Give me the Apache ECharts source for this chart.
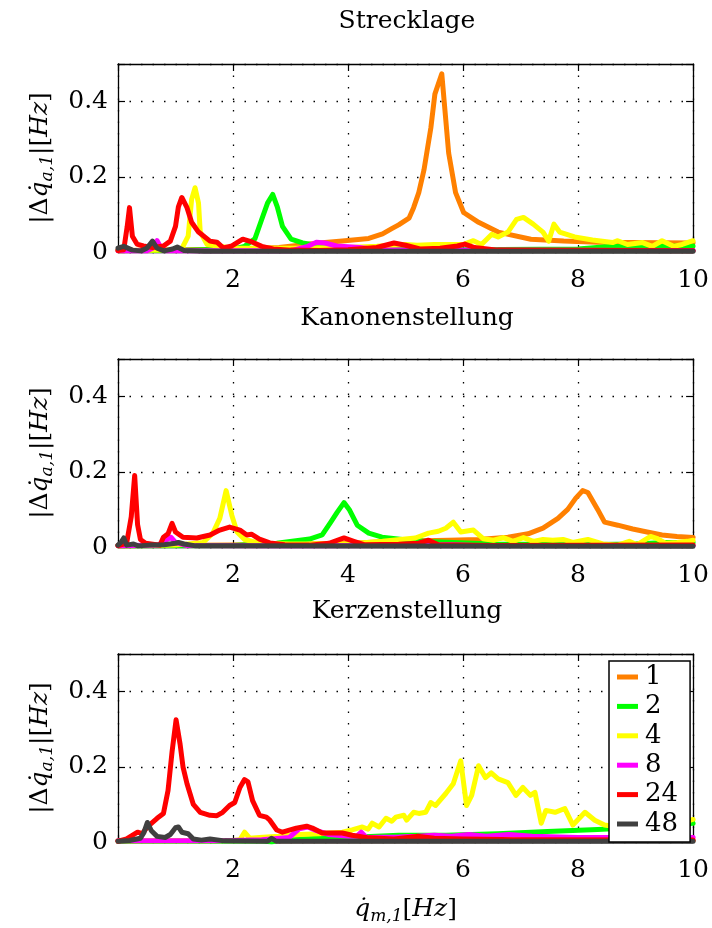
<!DOCTYPE html>
<html>
<head>
<meta charset="utf-8">
<script src="https://cdn.jsdelivr.net/npm/echarts@6/dist/echarts.min.js"></script>
<style>html,body{margin:0;padding:0;background:#fff;}#c{width:712px;height:928px;}</style>
</head>
<body>
<div id="c"></div>
<script>
// ---------- data ----------
const panelTitles = ['Strecklage', 'Kanonenstellung', 'Kerzenstellung'];
const seriesNames = ['1', '2', '4', '8', '24', '48'];
const seriesColors = ['#ff8000', '#00ff00', '#ffff00', '#ff00ff', '#ff0000', '#404040'];
const xTicks = [0, 2, 4, 6, 8, 10];
const yTicks = [0, 0.2, 0.4];

// Panel 1: Strecklage
const s_1 = [[0,0.004],[1,0.005],[2,0.008],[2.8,0.012],[3.5,0.024],[3.9,0.029],[4.36,0.036],[4.6,0.048],[4.76,0.062],[4.88,0.072],[5.06,0.09],[5.14,0.118],[5.23,0.158],[5.32,0.218],[5.44,0.33],[5.51,0.42],[5.63,0.474],[5.75,0.263],[5.87,0.158],[6.01,0.105],[6.27,0.079],[6.61,0.053],[7.18,0.034],[7.75,0.029],[8.34,0.026],[10,0.024]];
const s_2 = [[0,0.004],[1,0.004],[2.0,0.008],[2.2,0.015],[2.38,0.035],[2.5,0.087],[2.6,0.13],[2.69,0.153],[2.77,0.12],[2.86,0.068],[3.01,0.034],[3.21,0.024],[3.44,0.018],[3.8,0.012],[4.5,0.008],[6,0.006],[8,0.008],[8.6,0.015],[9,0.012],[9.5,0.015],[10,0.016]];
const s_4 = [[0,0.003],[1.1,0.006],[1.22,0.042],[1.28,0.14],[1.34,0.171],[1.4,0.13],[1.43,0.053],[1.55,0.02],[2,0.01],[3,0.01],[4,0.012],[4.5,0.015],[5,0.02],[5.2,0.018],[5.5,0.02],[6.0,0.02],[6.18,0.03],[6.32,0.02],[6.5,0.047],[6.61,0.04],[6.78,0.053],[6.93,0.087],[7.05,0.092],[7.22,0.074],[7.39,0.053],[7.49,0.029],[7.58,0.074],[7.68,0.053],[7.94,0.04],[8.25,0.032],[8.6,0.025],[8.69,0.03],[8.86,0.02],[9.12,0.025],[9.29,0.015],[9.46,0.03],[9.66,0.015],[9.81,0.02],[10,0.03]];
const s_8 = [[0,0.003],[0.5,0.003],[0.6,0.01],[0.68,0.03],[0.75,0.01],[0.85,0.003],[3.0,0.003],[3.3,0.015],[3.45,0.026],[3.6,0.024],[3.8,0.016],[4.2,0.012],[4.6,0.005],[10,0.004]];
const s_24 = [[0,0.004],[0.1,0.006],[0.16,0.068],[0.2,0.118],[0.25,0.042],[0.33,0.021],[0.44,0.016],[0.6,0.012],[0.79,0.016],[0.91,0.029],[1.0,0.068],[1.05,0.12],[1.11,0.145],[1.2,0.118],[1.28,0.079],[1.4,0.053],[1.6,0.029],[1.72,0.026],[1.83,0.011],[1.98,0.016],[2.17,0.034],[2.34,0.026],[2.5,0.015],[2.7,0.008],[3.0,0.005],[3.5,0.004],[4.0,0.006],[4.5,0.012],[4.8,0.024],[5.0,0.018],[5.25,0.008],[5.6,0.01],[5.9,0.016],[6.03,0.021],[6.2,0.012],[6.6,0.005],[10,0.003]];
const s_48 = [[0,0.01],[0.1,0.015],[0.25,0.005],[0.4,0.003],[0.5,0.01],[0.6,0.029],[0.68,0.01],[0.8,0.003],[0.95,0.008],[1.03,0.013],[1.15,0.004],[1.5,0.002],[10,0.002]];

// Panel 2: Kanonenstellung
const k_1 = [[0,0.003],[2,0.005],[4,0.01],[4.88,0.015],[5.75,0.018],[6.27,0.02],[6.78,0.026],[7.13,0.035],[7.39,0.05],[7.65,0.076],[7.82,0.1],[7.96,0.13],[8.08,0.15],[8.17,0.145],[8.34,0.1],[8.46,0.066],[8.69,0.058],[8.95,0.048],[9.2,0.04],[9.46,0.032],[9.72,0.028],[10,0.025]];
const k_2 = [[0,0.003],[2.0,0.004],[2.76,0.01],[3.33,0.021],[3.55,0.032],[3.7,0.066],[3.81,0.092],[3.93,0.118],[4.02,0.1],[4.16,0.058],[4.36,0.037],[4.59,0.026],[5.06,0.018],[5.5,0.014],[6.5,0.008],[8,0.006],[9,0.008],[9.5,0.012],[10,0.012]];
const k_4 = [[0,0.003],[1.0,0.005],[1.48,0.012],[1.65,0.037],[1.77,0.076],[1.88,0.15],[1.98,0.084],[2.07,0.04],[2.2,0.02],[2.46,0.01],[3,0.008],[4,0.008],[4.6,0.015],[5.17,0.024],[5.4,0.037],[5.57,0.042],[5.7,0.05],[5.83,0.066],[5.96,0.04],[6.18,0.045],[6.35,0.022],[6.53,0.018],[6.7,0.025],[6.87,0.015],[7.05,0.025],[7.22,0.015],[7.39,0.02],[7.56,0.018],[7.74,0.02],[7.91,0.012],[8.17,0.02],[8.43,0.008],[8.69,0.005],[8.89,0.015],[9.03,0.006],[9.26,0.028],[9.38,0.022],[9.52,0.01],[9.72,0.012],[9.9,0.015],[10,0.018]];
const k_8 = [[0,0.003],[0.7,0.005],[0.85,0.02],[0.92,0.026],[1.0,0.012],[1.2,0.004],[3,0.003],[5,0.004],[5.8,0.006],[6.2,0.004],[10,0.004]];
const k_24 = [[0,0.004],[0.15,0.01],[0.23,0.08],[0.29,0.19],[0.34,0.06],[0.39,0.02],[0.48,0.01],[0.73,0.005],[0.79,0.026],[0.87,0.035],[0.94,0.063],[1.0,0.04],[1.13,0.026],[1.37,0.024],[1.6,0.032],[1.77,0.045],[1.94,0.053],[2.12,0.045],[2.24,0.032],[2.32,0.034],[2.46,0.021],[2.64,0.011],[2.9,0.006],[3.33,0.005],[3.67,0.01],[3.93,0.024],[4.1,0.015],[4.28,0.006],[4.88,0.007],[5.23,0.01],[5.4,0.018],[5.57,0.006],[6.5,0.004],[10,0.005]];
const k_48 = [[0,0.005],[0.05,0.012],[0.1,0.024],[0.15,0.005],[0.27,0.008],[0.35,0.003],[0.55,0.005],[0.8,0.006],[1.0,0.01],[1.05,0.012],[1.15,0.008],[1.35,0.003],[10,0.002]];

// Panel 3: Kerzenstellung
const z_1 = [[0,0.003],[8.3,0.004],[8.51,0.008],[8.77,0.02],[9.03,0.022],[9.29,0.01],[9.5,0.004],[10,0.004]];
const z_2 = [[0,0.002],[2.5,0.003],[2.67,0.0],[2.8,0.005],[3.5,0.01],[4,0.012],[4.88,0.018],[5.7,0.018],[6.6,0.022],[7.47,0.028],[8.34,0.033],[9.2,0.04],[10,0.05]];
const z_4 = [[0,0.003],[2.0,0.004],[2.12,0.006],[2.2,0.026],[2.29,0.01],[2.46,0.012],[2.8,0.015],[3.15,0.02],[3.5,0.022],[3.9,0.026],[4.07,0.032],[4.25,0.04],[4.35,0.034],[4.42,0.05],[4.54,0.04],[4.66,0.063],[4.76,0.055],[4.83,0.066],[4.97,0.071],[5.02,0.058],[5.14,0.079],[5.23,0.076],[5.35,0.079],[5.44,0.105],[5.52,0.097],[5.7,0.129],[5.83,0.155],[5.96,0.216],[6.06,0.097],[6.15,0.124],[6.27,0.203],[6.39,0.171],[6.49,0.184],[6.61,0.168],[6.78,0.158],[6.92,0.124],[7.04,0.145],[7.17,0.124],[7.25,0.132],[7.36,0.05],[7.44,0.084],[7.6,0.079],[7.77,0.089],[7.91,0.045],[8.12,0.079],[8.29,0.058],[8.46,0.045],[8.69,0.04],[8.95,0.035],[9.1,0.04],[9.26,0.032],[9.43,0.018],[9.6,0.039],[9.76,0.024],[9.95,0.058],[10,0.06]];
const z_8 = [[0,0.003],[2.0,0.004],[2.5,0.006],[2.98,0.012],[3.15,0.035],[3.3,0.04],[3.45,0.03],[3.67,0.02],[4.0,0.015],[4.15,0.015],[4.23,0.026],[4.32,0.012],[4.88,0.013],[5.2,0.015],[5.5,0.018],[5.8,0.015],[6.1,0.02],[6.4,0.015],[6.8,0.02],[7.2,0.015],[8,0.012],[10,0.012]];
const z_24 = [[0,0.002],[0.15,0.008],[0.34,0.026],[0.42,0.022],[0.51,0.04],[0.68,0.063],[0.79,0.076],[0.87,0.137],[0.94,0.24],[1.01,0.325],[1.08,0.26],[1.13,0.2],[1.2,0.155],[1.31,0.1],[1.43,0.079],[1.6,0.071],[1.72,0.07],[1.82,0.079],[1.94,0.097],[2.03,0.105],[2.12,0.145],[2.2,0.166],[2.26,0.16],[2.34,0.11],[2.46,0.071],[2.58,0.066],[2.64,0.058],[2.76,0.032],[2.86,0.026],[3.1,0.037],[3.28,0.042],[3.38,0.037],[3.55,0.024],[3.9,0.024],[4.07,0.018],[4.36,0.011],[4.8,0.008],[5.2,0.015],[5.5,0.01],[6,0.008],[7,0.006],[10,0.005]];
const z_48 = [[0,0.002],[0.2,0.004],[0.39,0.01],[0.45,0.025],[0.51,0.052],[0.58,0.03],[0.68,0.015],[0.82,0.012],[0.91,0.02],[1.0,0.038],[1.05,0.04],[1.11,0.026],[1.22,0.022],[1.31,0.008],[1.45,0.005],[1.6,0.008],[1.85,0.003],[2.6,0.002],[2.67,0.01],[2.75,0.002],[10,0.002]];

const panels = [
  [s_1, s_2, s_4, s_8, s_24, s_48],
  [k_1, k_2, k_4, k_8, k_24, k_48],
  [z_1, z_2, z_4, z_8, z_24, z_48]
];

// ---------- layout ----------
const FONT = 'DejaVu Serif';
const gridTops = [64, 359, 654];
const gridH = 188;
const gridLeft = 118, gridRight = 16;
const titleY = [21, 318, 611];

const grids = [], xAxes = [], yAxes = [], series = [], graphics = [];
const nameRich = {
  n: {fontFamily: FONT, fontSize: 25, color: '#000'},
  it: {fontFamily: FONT, fontStyle: 'italic', fontSize: 25, color: '#000'},
  sub: {fontFamily: FONT, fontStyle: 'italic', fontSize: 17, color: '#000', verticalAlign: 'bottom', padding: [14, 0, 0, 0]}
};

panels.forEach((pdata, i) => {
  grids.push({left: gridLeft, right: gridRight, top: gridTops[i], height: gridH, containLabel: false});
  const axLine = {show: true, onZero: false, lineStyle: {color: '#000', width: 1.3}};
  const tick = {show: true, inside: true, length: 7, lineStyle: {color: '#000', width: 1.2}};
  xAxes.push({
    type: 'value', gridIndex: i, min: xTicks[0], max: xTicks[xTicks.length - 1], interval: 2,
    position: 'bottom', axisLine: axLine, axisTick: tick,
    axisLabel: {show: true, margin: 16, fontFamily: FONT, fontSize: 25, color: '#000',
      formatter: v => (v === 0 ? '' : String(v))},
    splitLine: {show: true, lineStyle: {color: '#000', width: 1.3, type: [1.5, 10]}},
    name: i === 2 ? '{it|q̇}{sub|m,1}{n|[}{it|Hz}{n|]}' : '',
    nameLocation: 'middle', nameGap: 52,
    nameTextStyle: {rich: nameRich}
  });
  xAxes.push({
    type: 'value', gridIndex: i, min: xTicks[0], max: xTicks[xTicks.length - 1], interval: 2,
    position: 'top', axisLine: axLine, axisTick: tick,
    axisLabel: {show: false}, splitLine: {show: false}
  });
  yAxes.push({
    type: 'value', gridIndex: i, min: 0, max: 0.5, interval: 0.2,
    position: 'left', axisLine: axLine, axisTick: tick,
    axisLabel: {show: true, margin: 10, fontFamily: FONT, fontSize: 25, color: '#000',
      formatter: v => (yTicks.indexOf(v) >= 0 ? String(v) : '')},
    splitLine: {show: true, lineStyle: {color: '#000', width: 1.3, type: [1.5, 10]}},
    name: '{n||Δ}{it|q̇}{sub|a,1}{n||[}{it|Hz}{n|]}',
    nameLocation: 'middle', nameRotate: 90, nameGap: 62,
    nameTextStyle: {rich: nameRich}
  });
  yAxes.push({
    type: 'value', gridIndex: i, min: 0, max: 0.5, interval: 0.2,
    position: 'right', axisLine: axLine, axisTick: tick,
    axisLabel: {show: false}, splitLine: {show: false}
  });
  pdata.forEach((d, j) => {
    series.push({
      type: 'line', name: seriesNames[j], data: d,
      xAxisIndex: 2 * i, yAxisIndex: 2 * i,
      showSymbol: false, symbol: 'none', smooth: false,
      lineStyle: {color: seriesColors[j], width: 5, join: 'round', cap: 'round'},
      itemStyle: {color: seriesColors[j]},
      z: 2 + j * 0.01
    });
  });
  graphics.push({
    type: 'text', x: gridLeft + (712 - gridLeft - gridRight) / 2, y: titleY[i],
    style: {text: panelTitles[i], fontFamily: FONT, fontSize: 25, fill: '#000',
      textAlign: 'center', textVerticalAlign: 'middle'}
  });
});

const chart = echarts.init(document.getElementById('c'), null, {renderer: 'canvas'});
chart.setOption({
  animation: false,
  backgroundColor: '#fff',
  grid: grids,
  xAxis: xAxes,
  yAxis: yAxes,
  series: series,
  graphic: graphics,
  legend: {
    data: seriesNames,
    orient: 'vertical', left: 609, top: 661,
    backgroundColor: '#fff', borderColor: '#000', borderWidth: 1.5, borderRadius: 0,
    padding: [3, 12, 5, 8],
    itemGap: 3.4, itemWidth: 21, itemHeight: 5, icon: 'rect',
    textStyle: {fontFamily: FONT, fontSize: 26, color: '#000', lineHeight: 24, padding: [0, 0, 0, 2]},
    selectedMode: false, z: 10
  }
});
</script>
</body>
</html>
